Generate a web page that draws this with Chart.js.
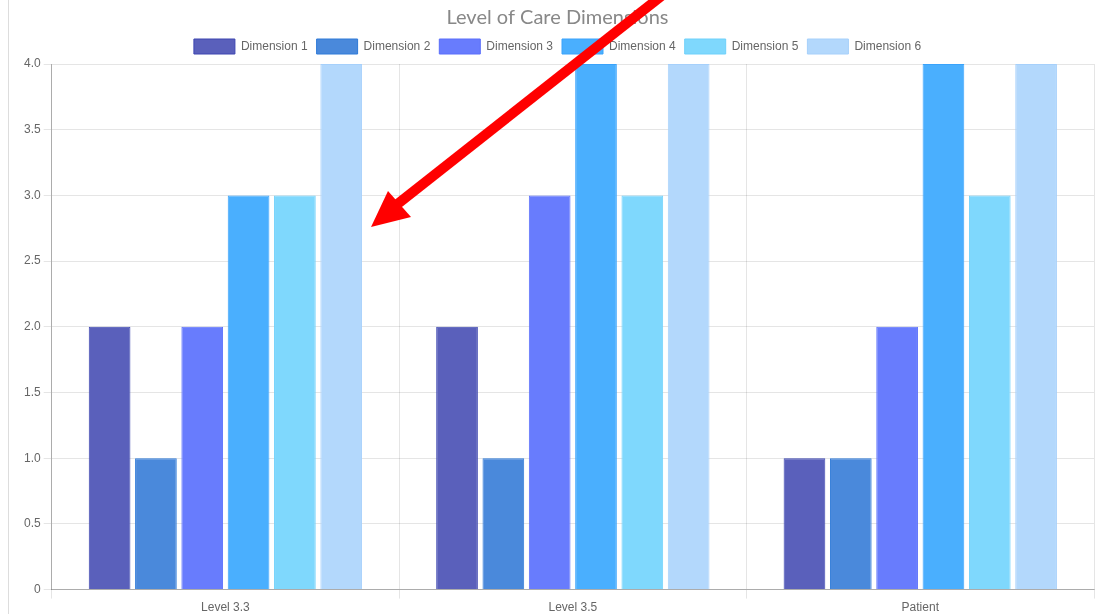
<!DOCTYPE html>
<html>
<head>
<meta charset="utf-8">
<script src="https://cdn.jsdelivr.net/npm/chart.js@4/dist/chart.umd.min.js"></script>
<style>
  html, body { margin: 0; padding: 0; background: #fff; overflow: hidden; }
  body { width: 1099px; height: 614px; position: relative; }
  #edge { position: absolute; left: 8px; top: 0; width: 1px; height: 614px; background: #ddd; }
  #wrap { position: absolute; left: 9px; top: 0; width: 1090px; height: 617px; }
  #arrow { position: absolute; left: 0; top: 0; pointer-events: none; }
</style>
</head>
<body>
<div id="edge"></div>
<div id="wrap"><canvas id="myChart"></canvas></div>
<svg id="arrow" width="1099" height="614">
  <line x1="664" y1="-6" x2="395" y2="206" stroke="#ff0000" stroke-width="10"/>
  <polygon points="371,227 388,191 411,217" fill="#ff0000"/>
</svg>
<script>
  const categories = ['Level 3.3', 'Level 3.5', 'Patient'];
  const seriesNames = ['Dimension 1', 'Dimension 2', 'Dimension 3', 'Dimension 4', 'Dimension 5', 'Dimension 6'];
  const dim1 = [2, 2, 1];
  const dim2 = [1, 1, 1];
  const dim3 = [2, 3, 2];
  const dim4 = [3, 4, 4];
  const dim5 = [3, 3, 3];
  const dim6 = [4, 4, 4];
  const yTicks = [0, 0.5, 1, 1.5, 2, 2.5, 3, 3.5, 4];

  const fills = ['#5a60bb', '#4a89db', '#687cfd', '#4aaffe', '#7fd8fd', '#b3d8fc'];
  const borders = ['#3c45b0', '#2f7ad8', '#5a6ffb', '#3aa3fb', '#6fd1fb', '#a6d0fb'];
  const values = [dim1, dim2, dim3, dim4, dim5, dim6];

  const ctx = document.getElementById('myChart').getContext('2d');

  const myChart = new Chart(ctx, {
    type: 'bar',
    data: {
      labels: categories,
      datasets: seriesNames.map((name, i) => ({
        label: name,
        data: values[i],
        backgroundColor: fills[i],
        borderColor: borders[i],
        borderWidth: 1
      }))
    },
    options: {
      responsive: true,
      maintainAspectRatio: false,
      animation: false,
      layout: { padding: { left: 12, right: 5, top: 0, bottom: 0 } },
      scales: {
        x: {
          grid: { color: 'rgba(0,0,0,0.1)', offset: true, tickLength: 9 },
          border: { color: 'rgba(0,0,0,0.25)' },
          ticks: { color: '#666', font: { family: 'Liberation Sans', size: 12 }, padding: 2 }
        },
        y: {
          min: 0,
          max: 4,
          afterBuildTicks: (axis) => { axis.ticks = yTicks.map(v => ({ value: v })); },
          grid: { color: 'rgba(0,0,0,0.1)', tickLength: 8 },
          border: { color: 'rgba(0,0,0,0.25)' },
          ticks: {
            color: '#666',
            font: { family: 'Liberation Sans', size: 12 },
            padding: 3,
            callback: (v) => v === 0 ? '0' : Number(v).toFixed(1)
          }
        }
      },
      plugins: {
        title: {
          display: true,
          text: 'Level of Care Dimensions',
          color: '#888',
          font: { family: 'Lato', size: 20, weight: 'normal' },
          padding: { top: 6, bottom: 0 }
        },
        legend: {
          labels: {
            color: '#666',
            boxWidth: 41,
            boxHeight: 15,
            padding: 9,
            font: { family: 'Liberation Sans', size: 12 }
          }
        },
        tooltip: { enabled: false }
      }
    }
  });
</script>
</body>
</html>
